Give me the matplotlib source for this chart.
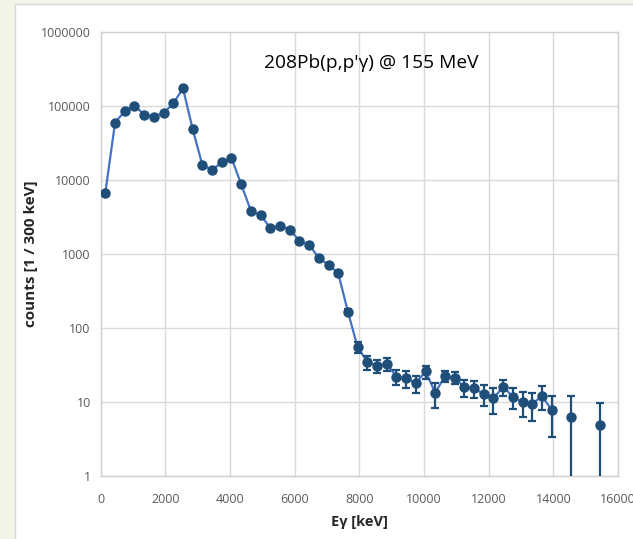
import numpy as np
import matplotlib
matplotlib.use("Agg")
from matplotlib import pyplot as plt
from matplotlib.patches import Rectangle
from matplotlib.ticker import FixedLocator, FuncFormatter

# === DATA: gamma spectrum, 300 keV bins ===

energy_kev = [150, 450, 750, 1050, 1350, 1650, 1950, 2250, 2550, 2850,
              3150, 3450, 3750, 4050, 4350, 4650, 4950, 5250, 5550, 5850,
              6150, 6450, 6750, 7050, 7350, 7650, 7950, 8250, 8550, 8850,
              9150, 9450, 9750, 10050, 10350, 10650, 10950, 11250, 11550, 11850,
              12150, 12450, 12750, 13050, 13350, 13650, 13950, 14250, 14550, 14850,
              15150, 15450]

counts = [6800, 60000, 86000, 102000, 77000, 72500, 81000, 109000, 175000, 49000,
          16000, 13800, 17400, 20000, 8800, 3850, 3370, 2270, 2390, 2150,
          1510, 1350, 880, 720, 553, 166, 55, 35, 31, 33,
          22, 21, 18, 26, 13.3, 22.6, 21.3, 15.8, 15.3, 12.8,
          11.2, 16.1, 11.8, 10, 9.4, 12.1, 7.8, np.nan, 6.2, np.nan,
          np.nan, 4.9]

counts_err = [83, 245, 293, 320, 278, 269, 285, 330, 418, 221,
              126, 117, 132, 141, 94, 62, 58, 48, 49, 46,
              39, 37, 30, 27, 24, 13, 9, 7.5, 6.5, 6.5,
              5, 5.3, 4.6, 5.2, 5, 4, 4, 4.2, 4, 4,
              4.2, 4, 3.8, 3.8, 3.9, 4.2, 4.4, np.nan, 5.9, np.nan,
              np.nan, 4.8]

x_ticks = [0, 2000, 4000, 6000, 8000, 10000, 12000, 14000, 16000]
y_ticks = [1, 10, 100, 1000, 10000, 100000, 1000000]

title_text = "208Pb(p,p'\u03b3) @ 155 MeV"

# === FIGURE ===

plt.rcParams['font.family'] = ['Open Sans', 'DejaVu Sans']

fig = plt.figure(figsize=(6.33, 5.39), dpi=100, facecolor='#f3f5e9')

# white chart panel behind the axes
W, H = 633, 539
fig.patches.append(Rectangle((15 / W, -0.01), 1.0, 1 - 4 / H + 0.01,
                             transform=fig.transFigure, facecolor='white',
                             edgecolor='#d9d9d9', linewidth=1.0, zorder=-5))

ax = fig.add_axes([100.5 / W, 1 - 476 / H, (618 - 100.5) / W, (476 - 32.3) / H])
ax.set_zorder(2)
ax.set_facecolor('white')
ax.set_yscale('log', nonpositive='clip')
ax.set_xlim(0, 16000)
ax.set_ylim(1, 1000000)

ax.xaxis.set_major_locator(FixedLocator(x_ticks))
ax.yaxis.set_major_locator(FixedLocator(y_ticks))
ax.yaxis.set_minor_locator(FixedLocator([]))
ax.yaxis.set_major_formatter(FuncFormatter(lambda v, p: f"{v:.0f}"))
ax.xaxis.set_major_formatter(FuncFormatter(lambda v, p: f"{v:.0f}"))

ax.grid(True, color='#d9d9d9', linewidth=1.0)
ax.set_axisbelow(True)
for side in ['top', 'right', 'left', 'bottom']:
    ax.spines[side].set_color('#d0d0d0')
    ax.spines[side].set_linewidth(1.0)

ax.tick_params(axis='both', length=0, labelsize=9, labelcolor='#595959')
ax.tick_params(axis='x', pad=12)
ax.tick_params(axis='y', pad=7)

# error bars, connecting line, then markers on top
ax.errorbar(energy_kev, counts, yerr=counts_err, fmt='none', ecolor='#1f4e79',
            elinewidth=1.6, capsize=3.2, capthick=1.6, zorder=3)
ax.plot(energy_kev, counts, '-', color='#4472c4', linewidth=1.6, zorder=2)
ax.plot(energy_kev, counts, 'o', color='#1f4e79', markersize=6.5, zorder=4)

ax.text(8360, 390000, title_text, ha='center', va='center', fontsize=13.8, color='black')

ax.set_xlabel('E\u03b3 [keV]', fontsize=10.5, fontweight='bold', color='#262626', labelpad=7)
ax.set_ylabel('counts [1 / 300 keV]', fontsize=11, fontweight='bold', color='#262626', labelpad=2)

fig.savefig('out.png', dpi=100, facecolor=fig.get_facecolor())
